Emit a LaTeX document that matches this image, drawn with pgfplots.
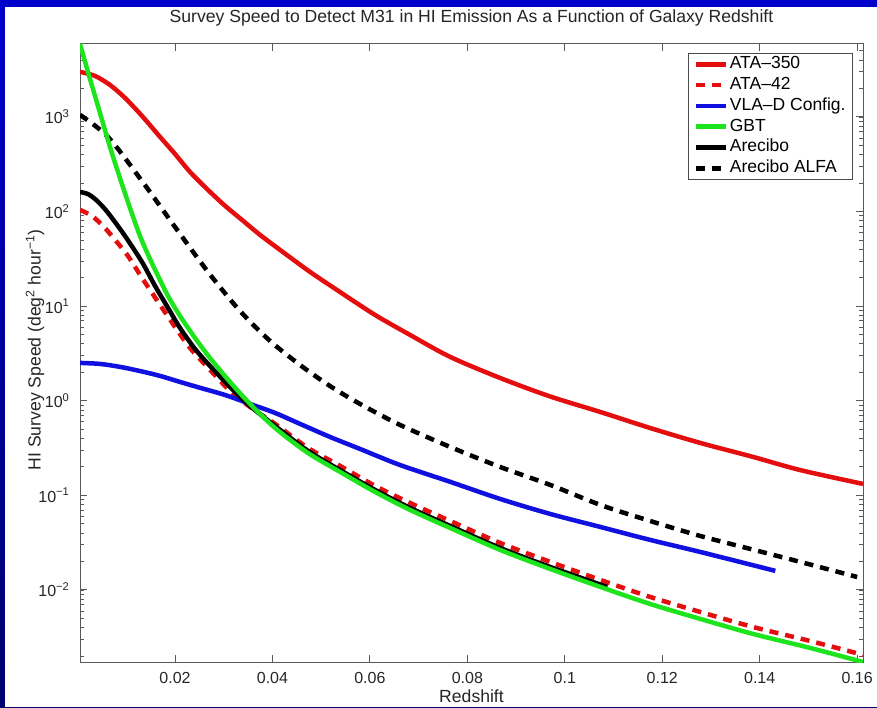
\documentclass[border=0pt]{standalone}
\usepackage{pgfplots}
\pgfplotsset{compat=1.18}
\usepackage{fontspec}
\setmainfont{Liberation Sans}

\definecolor{mred}{RGB}{228,14,14}
\definecolor{mgreen}{RGB}{30,228,30}
\definecolor{mblue}{RGB}{16,16,224}
\definecolor{frameblue}{RGB}{0,0,205}
\definecolor{framenavy}{RGB}{0,0,110}

% 10^k tick labels set in the text font
\newcommand\logtick[1]{\pgfmathparse{round(#1)}\pgfmathtruncatemacro\lgexp{\pgfmathresult}10\textsuperscript{\ifnum\lgexp<0 −\number\numexpr-\lgexp\relax\else\lgexp\fi}}

\begin{document}
\begin{tikzpicture}
\useasboundingbox (0pt,0pt) rectangle (877pt,707pt);
\shade[top color=frameblue, bottom color=framenavy] (0pt,0pt) rectangle (877pt,707pt);
\fill[white] (5pt,0pt) rectangle (877pt,700pt);
\begin{axis}[
at={(80pt,45pt)}, anchor=south west,
scale only axis,
width=783pt, height=618pt,
ymode=log, log basis y=10,
xmin=0.0005, xmax=0.1612,
ymin=0.00173, ymax=5900,
xtick={0.02,0.04,...,0.16},
xticklabel style={/pgf/number format/fixed, /pgf/number format/precision=2, yshift=-7pt},
yticklabel style={xshift=-7pt},
/pgf/number format/assume math mode=true,
yticklabel={\logtick{\tick}},
tick label style={font=\fontsize{16}{19}\selectfont, text=black!85},
axis line style={draw=black!65, line width=1pt},
major tick style={draw=black!65, line width=0.9pt},
minor tick style={draw=black!65, line width=0.7pt},
major tick length=7pt, minor tick length=4pt,
title={Survey Speed to Detect M31 in HI Emission As a Function of Galaxy Redshift},
title style={at={(axis description cs:0.5,1.032)}, anchor=center, font=\fontsize{17.6}{20}\selectfont, text=black!85},
xlabel={Redshift},
xlabel style={at={(axis description cs:0.5,-0.055)}, anchor=center, font=\fontsize{17.6}{20}\selectfont, text=black!85},
ylabel={HI Survey Speed (deg\textsuperscript{2} hour\textsuperscript{−1})},
ylabel style={at={(axis description cs:-0.0575,0.505)}, anchor=center, font=\fontsize{17.6}{20}\selectfont, text=black!85},
legend cell align=left,
legend style={at={(1,1)}, anchor=north east, xshift=-10pt, yshift=-9pt,
  draw=black!70, line width=0.8pt, font=\fontsize{17.5}{20}\selectfont,
  row sep=0pt, inner xsep=5pt, inner ysep=0.5pt,
  nodes={text height=12.5pt, text depth=3.5pt, inner ysep=2.4pt, inner xsep=2pt}},
legend image code/.code={\draw[#1] (0pt,0pt) -- (30pt,0pt);},
every axis plot/.append style={line width=4.5pt, smooth},
]
\addlegendimage{mred, line width=4.5pt}
\addlegendentry{ATA–350}
\addlegendimage{mred, line width=4.5pt, dash pattern=on 9pt off 7pt}
\addlegendentry{ATA–42}
\addlegendimage{mblue, line width=4.5pt}
\addlegendentry{VLA–D Config.}
\addlegendimage{mgreen, line width=4.5pt}
\addlegendentry{GBT}
\addlegendimage{black, line width=4.5pt}
\addlegendentry{Arecibo}
\addlegendimage{black, line width=4.5pt, dash pattern=on 9pt off 7pt}
\addlegendentry{Arecibo ALFA}

% ATA-350
\addplot[mred, forget plot] coordinates {
(0.0005,2994) (0.00357,2712) (0.00665,2178) (0.00973,1589) (0.01322,1025)
(0.01692,615) (0.02,406) (0.02308,262) (0.02677,169) (0.03026,115)
(0.03375,81.5) (0.03745,56.6) (0.04155,39.3) (0.04771,23.0) (0.05387,14.1)
(0.06105,8.07) (0.06824,4.96) (0.07645,2.91) (0.08672,1.74) (0.09698,1.110)
(0.1073,0.760) (0.1175,0.515) (0.1278,0.358) (0.1386,0.255) (0.1483,0.185)
(0.1612,0.132)};
% ATA-42
\addplot[mred, dash pattern=on 9pt off 7pt, forget plot] coordinates {
(0.0005,104) (0.00296,89.8) (0.00542,68.7) (0.00788,48.9) (0.01035,33.9)
(0.01322,19.9) (0.01651,11.1) (0.02,6.03) (0.02308,3.61) (0.02718,2.12)
(0.03129,1.27) (0.0354,0.859) (0.04053,0.569) (0.0473,0.317) (0.05387,0.205)
(0.06105,0.126) (0.06824,0.0831) (0.07645,0.0536) (0.08672,0.0314)
(0.09698,0.0198) (0.1073,0.01276) (0.1175,0.00844) (0.1278,0.00585)
(0.1386,0.00406) (0.1503,0.00289) (0.1612,0.00206)};
% VLA-D Config.
\addplot[mblue, forget plot] coordinates {
(0.0005,2.51) (0.0046,2.45) (0.0087,2.28) (0.01281,2.06) (0.01692,1.83)
(0.02102,1.58) (0.02513,1.37) (0.03026,1.15) (0.0354,0.925) (0.04053,0.743)
(0.04566,0.569) (0.05182,0.414) (0.05798,0.309) (0.06619,0.209)
(0.07645,0.139) (0.08672,0.0916) (0.09698,0.0636) (0.1073,0.0463)
(0.1175,0.0338) (0.1278,0.0252) (0.1432,0.0159)};
% Arecibo
\addplot[black, forget plot] coordinates {
(0.0005,161) (0.00214,153) (0.00378,133) (0.00542,109) (0.00706,85.5)
(0.00973,55.2) (0.01322,29.3) (0.01589,16.4) (0.01856,9.58) (0.02102,5.89)
(0.0241,3.53) (0.02718,2.33) (0.03129,1.40) (0.0354,0.881) (0.04053,0.542)
(0.0473,0.295) (0.05387,0.185) (0.06105,0.114) (0.06824,0.0736)
(0.07645,0.0475) (0.08672,0.0278) (0.09698,0.0175) (0.1087,0.01075)};
% Arecibo ALFA
\addplot[black, dash pattern=on 9pt off 7pt, forget plot] coordinates {
(0.0005,1050) (0.00624,615) (0.01322,210) (0.02,68.7) (0.02677,23.0)
(0.03334,8.89) (0.0395,4.29) (0.04566,2.39) (0.05181,1.43) (0.05797,0.925)
(0.06618,0.555) (0.07645,0.325) (0.08672,0.1995) (0.09698,0.129)
(0.1073,0.0792) (0.1175,0.0536) (0.1278,0.0372) (0.1381,0.0271)
(0.1483,0.0198) (0.16,0.0137)};
% GBT
\addplot[mgreen, forget plot] coordinates {
(0.0005,5900) (0.00255,2523) (0.0046,1102) (0.00665,482) (0.0087,226)
(0.01076,109) (0.01281,55.2) (0.01486,31.5) (0.01692,18.9) (0.01856,12.8)
(0.02102,7.88) (0.0241,4.61) (0.02718,2.83) (0.03129,1.58) (0.0354,0.925)
(0.04053,0.515) (0.0473,0.280) (0.05387,0.177) (0.06105,0.1086)
(0.06824,0.0701) (0.07645,0.0452) (0.08672,0.0265) (0.09698,0.01668)
(0.1073,0.01076) (0.1175,0.00711) (0.1278,0.00494) (0.1386,0.00343)
(0.1503,0.00244) (0.1612,0.00173)};
\end{axis}
\end{tikzpicture}
\end{document}
